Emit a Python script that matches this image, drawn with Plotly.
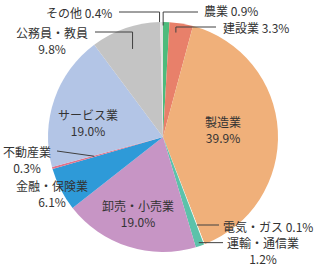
import plotly.graph_objects as go
import math

labels = ["農業", "建設業", "製造業", "電気・ガス", "運輸・通信業", "卸売・小売業",
          "金融・保険業", "不動産業", "サービス業", "公務員・教員", "その他"]
values = [0.9, 3.3, 39.9, 0.1, 1.2, 19.0, 6.1, 0.3, 19.0, 9.8, 0.4]
colors = ["#4dbb7c", "#e8806a", "#f0b07a", "#ffffff", "#5cc2aa", "#c795c5",
          "#2e9ad8", "#e0728a", "#b3c5e6", "#c4c4c4", "#e2e2e2"]
label_texts = ["農業 0.9%", "建設業 3.3%", "製造業<br>39.9%", "電気・ガス 0.1%",
               "運輸・通信業<br>1.2%", "卸売・小売業<br>19.0%", "金融・保険業<br>6.1%",
               "不動産業<br>0.3%", "サービス業<br>19.0%", "公務員・教員<br>9.8%", "その他 0.4%"]

W, H = 320, 267
CX, CY, R = 163, 137, 115

def px(x):
    return x / W

def py(y):
    return 1 - y / H

fig = go.Figure(go.Pie(
    labels=labels, values=values, sort=False, direction="clockwise", rotation=0,
    marker=dict(colors=colors, line=dict(width=0)),
    textinfo="none", hoverinfo="label+percent", showlegend=False,
    domain=dict(x=[px(CX - R), px(CX + R)], y=[py(CY + R), py(CY - R)]),
))

# mid angles (clockwise from 12 o'clock) computed from data
total = sum(values)
mids = []
acc = 0
for v in values:
    mids.append((acc + v / 2) / total * 360)
    acc += v

def anchor(i, rf):
    a = math.radians(mids[i])
    return CX + R * rf * math.sin(a), CY - R * rf * math.cos(a)

# label layout: (x, y, xanchor, align)
layout_pos = {
    "農業": (202, 11, "left"),
    "建設業": (221, 27, "left"),
    "製造業": (223, 129, "center"),
    "電気・ガス": (221, 226, "left"),
    "運輸・通信業": (263, 250, "center"),
    "卸売・小売業": (138, 213, "center"),
    "金融・保険業": (52, 193, "center"),
    "不動産業": (27, 159, "center"),
    "サービス業": (88, 122, "center"),
    "公務員・教員": (52, 40, "center"),
    "その他": (114, 12, "right"),
}

font = dict(family="Noto Sans CJK JP", size=12, color="#333333")
for lab, txt in zip(labels, label_texts):
    x, y, xa = layout_pos[lab]
    fig.add_annotation(x=px(x), y=py(y), xref="paper", yref="paper", text=txt,
                       showarrow=False, xanchor=xa, yanchor="middle", align="center",
                       font=font)

line = dict(color="#404040", width=1)

def seg(points):
    path = "M " + " L ".join(f"{px(x)},{py(y)}" for x, y in points)
    fig.add_shape(type="path", path=path, xref="paper", yref="paper", line=line)

i = labels.index
# elbow leaders (horizontal to label, then down to slice)
ax, ay = anchor(i("農業"), 0.97)
seg([(198, 12), (ax - 3, 12), (ax - 3, ay)])
ax, ay = anchor(i("建設業"), 0.92)
seg([(216, 27), (ax - 4, 27), (ax - 4, ay)])
ax, ay = anchor(i("その他"), 1.0)
seg([(119, 12), (ax - 2, 12), (ax - 2, ay)])
ax, ay = anchor(i("公務員・教員"), 0.81)
seg([(95, 32), (ax, 32), (ax, ay)])
ax, ay = anchor(i("電気・ガス"), 0.82)
seg([(ax, ay), (219, ay)])
ax, ay = anchor(i("運輸・通信業"), 0.97)
seg([(ax, ay), (223, ay)])
ax, ay = anchor(i("不動産業"), 0.62)
seg([(ax, ay), (57, 151)])

fig.update_layout(width=W, height=H, margin=dict(l=0, r=0, t=0, b=0),
                  paper_bgcolor="white", plot_bgcolor="white")
fig.write_html("out.html")
